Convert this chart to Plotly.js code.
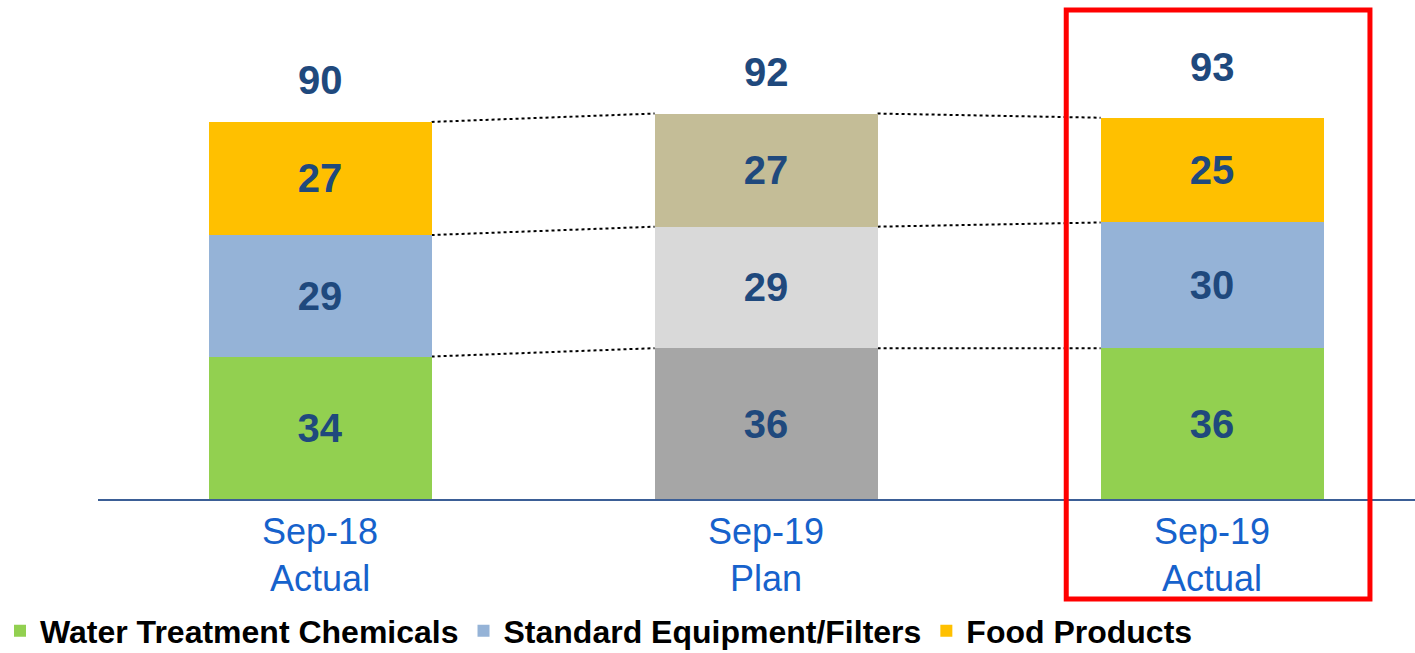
<!DOCTYPE html>
<html>
<head>
<meta charset="utf-8">
<script src="https://cdn.plot.ly/plotly-3.0.1.min.js"></script>
<style>html,body{margin:0;padding:0;background:#fff;}#chart{width:1415px;height:653px;}</style>
</head>
<body>
<div id="chart"></div>
<script>
// ---- data ----
const categories = ["Sep-18<br>Actual", "Sep-19<br>Plan", "Sep-19<br>Actual"];
const seriesNames = ["Water Treatment Chemicals", "Standard Equipment/Filters", "Food Products"];
const waterTreatment = [34, 36, 36];
const standardEquipment = [29, 29, 30];
const foodProducts = [27, 27, 25];
const totalLabels = [90, 92, 93];

// ---- styles ----
const FONT = "Liberation Sans, Arial, sans-serif";
const NUM_COLOR = "#1F497D";
const colorsWater = ["#92D050", "#A6A6A6", "#92D050"];
const colorsEquip = ["#95B3D7", "#D9D9D9", "#95B3D7"];
const colorsFood = ["#FFC000", "#C4BD97", "#FFC000"];
const BAR_W = 0.5;
const xs = categories.map((c, i) => i);

const seriesValues = [waterTreatment, standardEquipment, foodProducts];
const seriesColors = [colorsWater, colorsEquip, colorsFood];

const traces = seriesValues.map((vals, k) => ({
  type: "bar",
  name: seriesNames[k],
  x: xs,
  y: vals,
  width: BAR_W,
  marker: {color: seriesColors[k], line: {width: 0}},
  text: vals.map(String),
  textposition: "inside",
  insidetextanchor: "middle",
  constraintext: "none",
  textfont: {family: FONT, size: 40, color: NUM_COLOR, weight: "bold"},
  hoverinfo: "skip"
}));

// dotted connectors between bar edges at each cumulative level
const shapes = [];
const cum = xs.map(i => {
  let s = 0; const arr = [];
  seriesValues.forEach(v => { s += v[i]; arr.push(s); });
  return arr;
});
for (let i = 0; i < xs.length - 1; i++) {
  for (let k = 0; k < seriesValues.length; k++) {
    shapes.push({
      type: "line", xref: "x", yref: "y", layer: "below",
      x0: xs[i] + BAR_W / 2, x1: xs[i + 1] - BAR_W / 2,
      y0: cum[i][k], y1: cum[i + 1][k],
      line: {color: "#000000", width: 2, dash: "dot"}
    });
  }
}
// highlight box around last category
shapes.push({
  type: "rect", xref: "x", yref: "paper",
  x0: 1.673, x1: 2.354, y0: -0.2004, y1: 0.98,
  line: {color: "#FF0000", width: 5}, fillcolor: "rgba(0,0,0,0)"
});

const annotations = xs.map(i => ({
  x: xs[i], y: totalLabels[i], xref: "x", yref: "y",
  text: String(totalLabels[i]), showarrow: false,
  yanchor: "middle", yshift: 42,
  font: {family: FONT, size: 40, color: NUM_COLOR, weight: "bold"}
}));

const layout = {
  width: 1415, height: 653,
  margin: {l: 98, r: 0, t: 0, b: 154},
  barmode: "stack",
  paper_bgcolor: "#ffffff", plot_bgcolor: "#ffffff",
  showlegend: true,
  legend: {
    orientation: "h", xref: "container", yref: "container",
    x: -0.002, xanchor: "left", y: 0.0337, yanchor: "middle",
    font: {family: FONT, size: 32, color: "#000000", weight: "bold"},
    itemgap: 4, traceorder: "normal", bgcolor: "rgba(0,0,0,0)"
  },
  xaxis: {
    range: [-0.498, 2.455],
    tickvals: xs, ticktext: categories,
    showgrid: false, zeroline: false,
    showline: true, linecolor: "#3B5E96", linewidth: 2,
    ticks: "", tickfont: {family: FONT, size: 36, color: "#1662CC"},
    automargin: false,
    fixedrange: true
  },
  yaxis: {
    range: [0, 119.1], visible: false, showgrid: false, zeroline: false, fixedrange: true
  },
  shapes: shapes,
  annotations: annotations,
  font: {family: FONT}
};

Plotly.newPlot("chart", traces, layout, {displayModeBar: false, staticPlot: true});
</script>
</body>
</html>
